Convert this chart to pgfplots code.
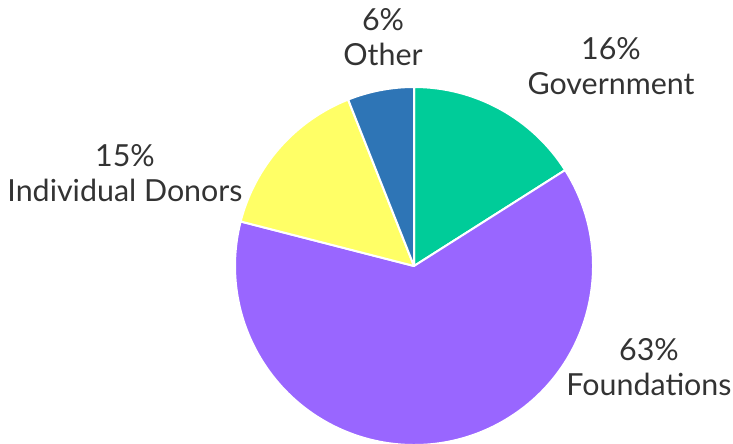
\documentclass[border=0pt]{standalone}
\usepackage{pgfplots}
\pgfplotsset{compat=1.18}
\usepackage{pgfplotstable}
\usepackage{fontspec}
\setmainfont{Lato}

\definecolor{govt}{HTML}{00CC99}
\definecolor{found}{HTML}{9966FF}
\definecolor{indiv}{HTML}{FFFF66}
\definecolor{other}{HTML}{2E75B6}
\definecolor{txt}{HTML}{333333}

% share of funding, in percent, clockwise from 12 o'clock
\pgfplotstableread[col sep=comma]{
name,share
Government,16
Foundations,63
Individual Donors,15
Other,6
}\sharetable

\pgfplotstablegetelem{0}{share}\of\sharetable \let\sA\pgfplotsretval
\pgfplotstablegetelem{1}{share}\of\sharetable \let\sB\pgfplotsretval
\pgfplotstablegetelem{2}{share}\of\sharetable \let\sC\pgfplotsretval
\pgfplotstablegetelem{3}{share}\of\sharetable \let\sD\pgfplotsretval
\pgfmathsetmacro\aA{90}
\pgfmathsetmacro\aB{90-3.6*\sA}
\pgfmathsetmacro\aC{90-3.6*(\sA+\sB)}
\pgfmathsetmacro\aD{90-3.6*(\sA+\sB+\sC)}
\pgfmathsetmacro\aE{90-3.6*(\sA+\sB+\sC+\sD)}

\newcommand\slice[3]{%
  \fill[#3, draw=white, line width=1pt, line join=round]
    (axis cs:414,178) -- ++(#1:89.5pt) arc[start angle=#1, end angle=#2, radius=89.5pt] -- cycle;}

\begin{document}
\begin{tikzpicture}
\begin{axis}[
  scale only axis, width=366.5pt, height=222pt,
  xmin=0, xmax=733, ymin=0, ymax=444,
  axis lines=none,
  clip=true,
]
\slice{\aA}{\aB}{govt}
\slice{\aB}{\aC}{found}
\slice{\aC}{\aD}{indiv}
\slice{\aD}{\aE}{other}
\begin{scope}[every node/.style={align=center, text=txt, font=\fontsize{15.2}{17.5}\selectfont}]
\node at (axis cs:383,407) {\sD\%\\Other};
\node at (axis cs:611,378) {\sA\%\\Government};
\node at (axis cs:125,271) {\sC\%\\Individual Donors};
\node at (axis cs:649,77) {\sB\%\\Foundations};
\end{scope}
\end{axis}
\pgfresetboundingbox
\useasboundingbox (0,0) rectangle (366.5pt,222pt);
\end{tikzpicture}
\end{document}
